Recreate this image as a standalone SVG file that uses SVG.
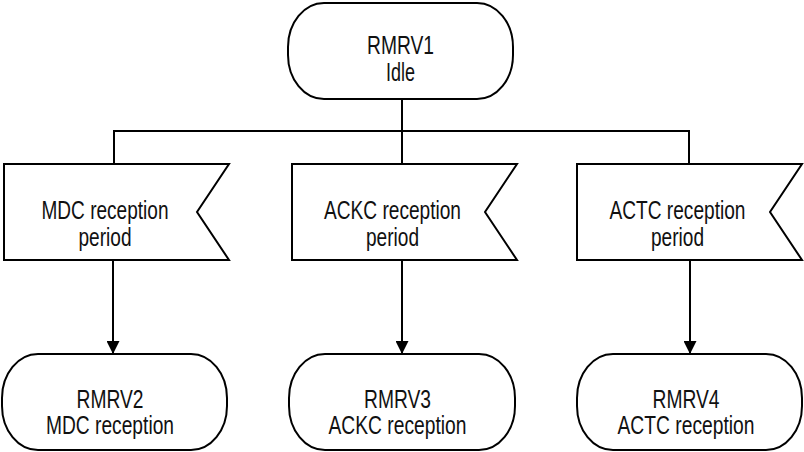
<svg xmlns="http://www.w3.org/2000/svg" width="804" height="452" viewBox="0 0 804 452">
<style>
.shape{fill:#fff;stroke:#000;stroke-width:2}
.line{fill:none;stroke:#000;stroke-width:2}
text{font-family:"Liberation Sans Narrow","Arial Narrow","Liberation Sans",Arial,sans-serif;font-size:25px;fill:#111;text-anchor:middle}
</style>
<defs>
<marker id="arr" viewBox="0 0 13 13" refX="13" refY="6.5" markerWidth="13" markerHeight="13" markerUnits="userSpaceOnUse" orient="auto">
<path d="M0,0 L13,6.5 L0,13 Z" fill="#000"/>
</marker>
</defs>
<g id="connectors">
<line class="line" x1="402" y1="99" x2="402" y2="131"/>
<line class="line" x1="113" y1="131" x2="690" y2="131"/>
<line class="line" x1="114" y1="131" x2="114" y2="164"/>
<line class="line" x1="402" y1="131" x2="402" y2="164"/>
<line class="line" x1="689" y1="131" x2="689" y2="164"/>
<line class="line" x1="113" y1="260" x2="113" y2="354" marker-end="url(#arr)"/>
<line class="line" x1="402" y1="260" x2="402" y2="354" marker-end="url(#arr)"/>
<line class="line" x1="690" y1="260" x2="690" y2="354" marker-end="url(#arr)"/>
</g>
<g id="rmrv1">
<rect class="shape" x="288" y="3" width="225" height="96" rx="36" ry="44"/>
<text x="400.5" y="54" textLength="67" lengthAdjust="spacingAndGlyphs">RMRV1</text>
<text x="400.5" y="81" textLength="29" lengthAdjust="spacingAndGlyphs">Idle</text>
</g>
<g id="mdc-period">
<polygon class="shape" points="4,164 229,164 197,212 229,260 4,260"/>
<text x="105" y="219" textLength="127" lengthAdjust="spacingAndGlyphs">MDC reception</text>
<text x="105" y="246" textLength="53" lengthAdjust="spacingAndGlyphs">period</text>
</g>
<g id="ackc-period">
<polygon class="shape" points="292,164 517,164 485,212 517,260 292,260"/>
<text x="392.5" y="219" textLength="137" lengthAdjust="spacingAndGlyphs">ACKC reception</text>
<text x="392.5" y="246" textLength="53" lengthAdjust="spacingAndGlyphs">period</text>
</g>
<g id="actc-period">
<polygon class="shape" points="577,164 802,164 770,212 802,260 577,260"/>
<text x="677.5" y="219" textLength="136" lengthAdjust="spacingAndGlyphs">ACTC reception</text>
<text x="677.5" y="246" textLength="53" lengthAdjust="spacingAndGlyphs">period</text>
</g>
<g id="rmrv2">
<rect class="shape" x="2" y="354" width="225" height="96" rx="36" ry="44"/>
<text x="110" y="408" textLength="67" lengthAdjust="spacingAndGlyphs">RMRV2</text>
<text x="110" y="434" textLength="128" lengthAdjust="spacingAndGlyphs">MDC reception</text>
</g>
<g id="rmrv3">
<rect class="shape" x="289" y="354" width="226" height="96" rx="36" ry="44"/>
<text x="397.5" y="408" textLength="67" lengthAdjust="spacingAndGlyphs">RMRV3</text>
<text x="397.5" y="434" textLength="138" lengthAdjust="spacingAndGlyphs">ACKC reception</text>
</g>
<g id="rmrv4">
<rect class="shape" x="577" y="354" width="225" height="96" rx="36" ry="44"/>
<text x="686" y="408" textLength="67" lengthAdjust="spacingAndGlyphs">RMRV4</text>
<text x="686" y="434" textLength="137" lengthAdjust="spacingAndGlyphs">ACTC reception</text>
</g>
</svg>
